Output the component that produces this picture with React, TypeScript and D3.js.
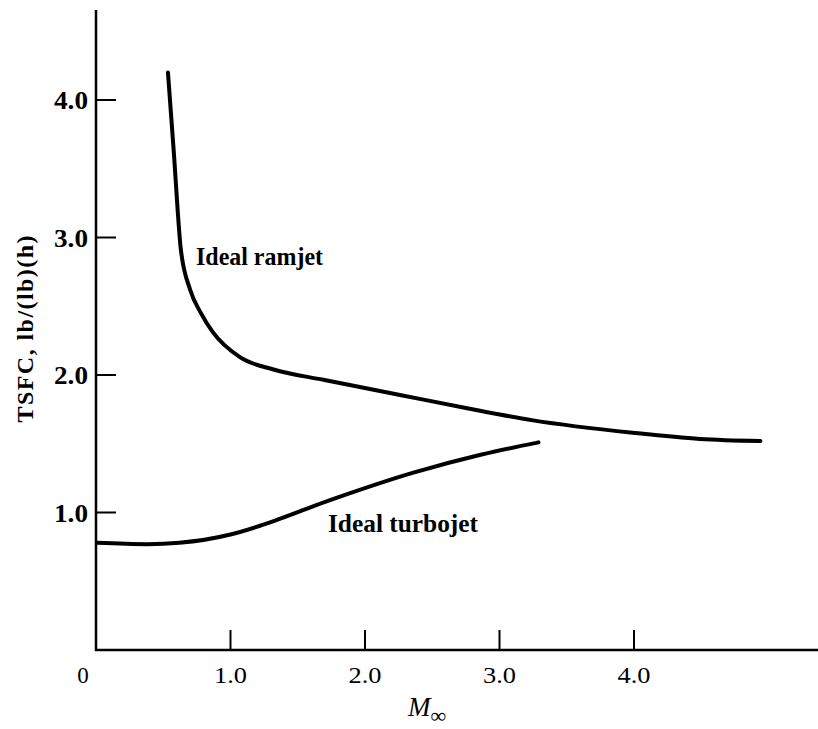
import React from "react";
import * as d3 from "d3";

const ramjetMach = [0.535, 0.58, 0.607, 0.63, 0.7, 0.78, 0.87, 1.07, 1.32, 1.69, 2.26, 2.75, 3.25, 3.99, 4.49, 4.94];
const ramjetTsfc = [4.2, 3.6, 3.2, 2.92, 2.62, 2.45, 2.31, 2.13, 2.04, 1.965, 1.855, 1.76, 1.67, 1.58, 1.535, 1.52];
const turbojetMach = [0.007, 0.38, 0.62, 1.0, 1.24, 1.74, 2.36, 2.86, 3.29];
const turbojetTsfc = [0.78, 0.77, 0.78, 0.84, 0.91, 1.09, 1.29, 1.42, 1.51];
const xTicks = [0, 1, 2, 3, 4];
const yTicks = [1, 2, 3, 4];
const xTickLabels = ["0", "1.0", "2.0", "3.0", "4.0"];
const yTickLabels = ["1.0", "2.0", "3.0", "4.0"];

const W = 818;
const H = 729;

export default function App() {
  const x = d3.scaleLinear().domain([0, 4]).range([96, 634]);
  const y = d3.scaleLinear().domain([0, 4]).range([650, 100]);
  const line = d3
    .line<[number, number]>()
    .x((d) => x(d[0]))
    .y((d) => y(d[1]))
    .curve(d3.curveMonotoneX);
  const ramjet = ramjetMach.map((m, i) => [m, ramjetTsfc[i]] as [number, number]);
  const turbo = turbojetMach.map((m, i) => [m, turbojetTsfc[i]] as [number, number]);
  const font = "'Liberation Serif', 'Times New Roman', serif";
  const x0 = x(0);
  const y0 = y(0);
  const xMax = x.invert(W);
  const yTop = y.invert(10);
  return (
    <svg
      width={W}
      height={H}
      style={{ position: "absolute", left: 0, top: 0, background: "#fff" }}
      fontFamily={font}
    >
      <rect width={W} height={H} fill="#fff" />
      {/* axes */}
      <line x1={x0} y1={y(yTop)} x2={x0} y2={y0 + 1} stroke="#000" strokeWidth={2.5} />
      <line x1={x0 - 1} y1={y0} x2={x(xMax)} y2={y0} stroke="#000" strokeWidth={2.5} />
      {yTicks.map((t, i) => (
        <g key={"y" + t}>
          <line x1={x0} x2={x0 + 20} y1={y(t)} y2={y(t)} stroke="#000" strokeWidth={2} />
          <text
            x={88}
            y={y(t) + 9}
            textAnchor="end"
            fontSize={25}
            fontWeight="bold"
            textLength={34}
            lengthAdjust="spacingAndGlyphs"
          >
            {yTickLabels[i]}
          </text>
        </g>
      ))}
      {xTicks.map((t, i) => (
        <g key={"x" + t}>
          {t > 0 && <line x1={x(t)} x2={x(t)} y1={y0} y2={y0 - 20} stroke="#000" strokeWidth={2} />}
          <text
            x={t === 0 ? x(t) - 13 : x(t)}
            y={683}
            textAnchor="middle"
            fontSize={23}
            textLength={t === 0 ? undefined : 33}
            lengthAdjust="spacingAndGlyphs"
          >
            {xTickLabels[i]}
          </text>
        </g>
      ))}
      {/* axis titles */}
      <text x={408} y={716} fontSize={27} fontStyle="italic">
        M
        <tspan fontSize={22} fontStyle="normal" dy={7}>∞</tspan>
      </text>
      <text
        transform={`translate(33,329) rotate(-90)`}
        textAnchor="middle"
        fontSize={24}
        fontWeight="bold"
        textLength={187}
      >
        TSFC, lb/(lb)(h)
      </text>
      {/* curves */}
      <path d={line(ramjet) || ""} fill="none" stroke="#000" strokeWidth={4} strokeLinecap="round" />
      <path d={line(turbo) || ""} fill="none" stroke="#000" strokeWidth={4} strokeLinecap="round" />
      {/* curve labels */}
      <text x={196} y={265} fontSize={26} fontWeight="bold" textLength={127} lengthAdjust="spacingAndGlyphs">
        Ideal ramjet
      </text>
      <text x={328} y={532} fontSize={26} fontWeight="bold" textLength={150} lengthAdjust="spacingAndGlyphs">
        Ideal turbojet
      </text>
    </svg>
  );
}
